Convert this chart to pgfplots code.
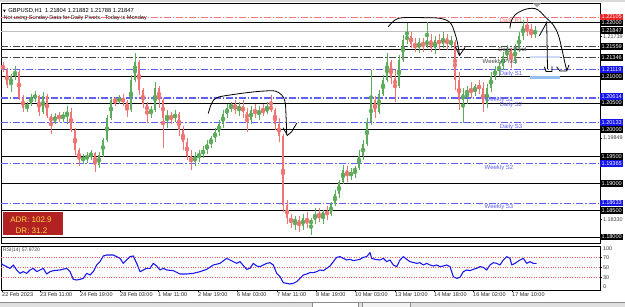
\documentclass[border=0pt]{standalone}
\usepackage{pgfplots}
\pgfplotsset{compat=1.18}
\usepackage{pgfplotstable}
\usepackage{fontspec}
\setmainfont{Liberation Sans}
\newfontfamily\symfont{DejaVu Sans}
\definecolor{upc}{RGB}{92,172,92}
\definecolor{dnc}{RGB}{240,116,116}
\definecolor{lvblue}{RGB}{95,95,240}
\definecolor{lvred}{RGB}{242,120,120}
\definecolor{lvgray}{RGB}{70,70,70}
\definecolor{boxblue}{RGB}{20,20,235}
\definecolor{boxred}{RGB}{235,35,35}
\definecolor{adrred}{RGB}{178,34,34}
\definecolor{adryel}{RGB}{252,212,70}
\definecolor{rsiblue}{RGB}{25,25,235}
\definecolor{hlblue}{RGB}{150,190,240}
\definecolor{hlpale}{RGB}{205,218,248}
\newcommand{\fs}[1]{\fontsize{#1}{#1}\selectfont}
\tikzset{
 pbox/.style={anchor=west, inner xsep=0.6pt, inner ysep=0pt, minimum width=23pt, minimum height=6.8pt, font=\fs{5.6}, text=white},
 lvtext/.style={font=\fs{6}, inner sep=0pt},
 hand/.style={black, line width=0.8pt, line cap=round, line join=round},
 ddash/.style={dash pattern=on 7pt off 2pt on 1.5pt off 2pt},
}
\newcommand{\lev}[2]{\addplot[#1] coordinates {(1,#2)(600,#2)};}

\pgfplotstableread{
x o h l c
3 1.21209 1.21265 1.21078 1.21116
7 1.21116 1.21153 1.20780 1.20836
11 1.20836 1.21041 1.20705 1.21004
15 1.21004 1.21190 1.20929 1.21078
19 1.21078 1.21116 1.20556 1.20593
23 1.20593 1.20649 1.20332 1.20407
27 1.20407 1.20519 1.20332 1.20481
31 1.20481 1.20668 1.20444 1.20612
35 1.20612 1.20724 1.20519 1.20631
39 1.20631 1.20649 1.20257 1.20332
43 1.20332 1.20705 1.20295 1.20631
47 1.20631 1.20668 1.20220 1.20257
51 1.20257 1.20295 1.19922 1.20146
55 1.20146 1.20313 1.20108 1.20257
59 1.20257 1.20332 1.20146 1.20220
63 1.20220 1.20332 1.20146 1.20276
67 1.20276 1.20444 1.20108 1.20332
71 1.20332 1.20407 1.19959 1.19996
75 1.19996 1.20034 1.19530 1.19623
79 1.19623 1.19660 1.19324 1.19436
83 1.19436 1.19548 1.19362 1.19474
87 1.19474 1.19586 1.19380 1.19511
91 1.19511 1.19623 1.19436 1.19567
95 1.19567 1.19586 1.19212 1.19343
99 1.19343 1.19586 1.19287 1.19530
103 1.19530 1.19847 1.19492 1.19810
107 1.19810 1.20276 1.19772 1.20220
111 1.20220 1.20593 1.20183 1.20556
115 1.20556 1.20612 1.20444 1.20537
119 1.20537 1.20649 1.20481 1.20593
123 1.20593 1.20668 1.20444 1.20519
127 1.20519 1.20556 1.20239 1.20369
131 1.20369 1.21023 1.20332 1.20929
135 1.20929 1.21433 1.20892 1.21265
139 1.21265 1.21302 1.20649 1.20743
143 1.20743 1.20780 1.20407 1.20481
147 1.20481 1.20519 1.20127 1.20332
151 1.20332 1.20444 1.20220 1.20369
155 1.20369 1.20892 1.20332 1.20780
159 1.20780 1.20817 1.20407 1.20556
163 1.20556 1.20593 1.19660 1.20220
167 1.20220 1.20369 1.20034 1.20257
171 1.20257 1.20332 1.20108 1.20220
175 1.20220 1.20369 1.20146 1.20295
179 1.20295 1.20332 1.19884 1.19996
183 1.19996 1.20071 1.19623 1.19772
187 1.19772 1.19847 1.19436 1.19511
191 1.19511 1.19623 1.19250 1.19399
195 1.19399 1.19586 1.19324 1.19511
199 1.19511 1.19623 1.19399 1.19548
203 1.19548 1.19698 1.19474 1.19623
207 1.19623 1.19810 1.19548 1.19735
211 1.19735 1.19884 1.19660 1.19847
215 1.19847 1.20034 1.19772 1.19959
219 1.19959 1.20183 1.19884 1.20108
223 1.20108 1.20369 1.20034 1.20295
227 1.20295 1.20481 1.20220 1.20407
231 1.20407 1.20519 1.20332 1.20481
235 1.20481 1.20556 1.20295 1.20369
239 1.20369 1.20519 1.20257 1.20444
243 1.20444 1.20556 1.20220 1.20332
247 1.20332 1.20407 1.19959 1.20183
251 1.20183 1.20444 1.20108 1.20369
255 1.20369 1.20481 1.20220 1.20295
259 1.20295 1.20444 1.20183 1.20369
263 1.20369 1.20481 1.20257 1.20332
267 1.20332 1.20519 1.20295 1.20444
271 1.20444 1.20649 1.20332 1.20369
275 1.20369 1.20407 1.19996 1.20108
279 1.20108 1.20220 1.19772 1.19884
283 1.19884 1.19922 1.18466 1.18595
287 1.18595 1.18690 1.18242 1.18354
291 1.18354 1.18429 1.18168 1.18280
295 1.18280 1.18391 1.18130 1.18317
299 1.18317 1.18391 1.18093 1.18205
303 1.18205 1.18429 1.18130 1.18354
307 1.18354 1.18466 1.18168 1.18242
311 1.18242 1.18354 1.18037 1.18317
315 1.18317 1.18541 1.18242 1.18429
319 1.18429 1.18541 1.18280 1.18354
323 1.18354 1.18503 1.18242 1.18466
327 1.18466 1.18578 1.18317 1.18429
331 1.18429 1.18653 1.18391 1.18613
335 1.18613 1.18877 1.18578 1.18802
339 1.18802 1.19063 1.18727 1.19026
343 1.19026 1.19343 1.18989 1.19250
347 1.19250 1.19324 1.19026 1.19138
351 1.19138 1.19287 1.19063 1.19212
355 1.19212 1.19324 1.19101 1.19287
359 1.19287 1.19623 1.19250 1.19511
363 1.19511 1.19810 1.19436 1.19735
367 1.19735 1.20220 1.19698 1.20146
371 1.20146 1.21116 1.20090 1.20556
375 1.20556 1.20631 1.20220 1.20332
379 1.20332 1.20743 1.20295 1.20668
383 1.20668 1.21023 1.20631 1.20929
387 1.20929 1.21433 1.20892 1.21265
391 1.21265 1.21302 1.20855 1.20967
395 1.20967 1.21116 1.20519 1.20817
399 1.20817 1.21396 1.20780 1.21302
403 1.21302 1.21769 1.21265 1.21676
407 1.21676 1.21993 1.21601 1.21750
411 1.21750 1.21825 1.21526 1.21601
415 1.21601 1.21713 1.21452 1.21526
419 1.21526 1.21713 1.21433 1.21638
423 1.21638 1.21713 1.21452 1.21564
427 1.21564 1.22012 1.21526 1.21676
431 1.21676 1.21788 1.21452 1.21526
435 1.21526 1.21750 1.21414 1.21676
439 1.21676 1.21788 1.21489 1.21601
443 1.21601 1.21825 1.21526 1.21713
447 1.21713 1.21788 1.21489 1.21601
451 1.21601 1.21750 1.21526 1.21638
455 1.21638 1.21676 1.20743 1.20929
459 1.20929 1.21078 1.20369 1.20556
463 1.20556 1.20780 1.20127 1.20668
467 1.20668 1.20817 1.20481 1.20743
471 1.20743 1.20892 1.20593 1.20705
475 1.20705 1.20855 1.20631 1.20817
479 1.20817 1.20929 1.20668 1.20780
483 1.20780 1.20892 1.20332 1.20481
487 1.20481 1.20855 1.20407 1.20780
491 1.20780 1.21078 1.20705 1.21004
495 1.21004 1.21190 1.20929 1.21116
499 1.21116 1.21265 1.21004 1.21190
503 1.21190 1.21452 1.21116 1.21377
507 1.21377 1.21582 1.21302 1.21489
511 1.21489 1.21526 1.21153 1.21302
515 1.21302 1.21601 1.21228 1.21526
519 1.21526 1.21825 1.21452 1.21750
523 1.21750 1.22049 1.21676 1.21937
527 1.21937 1.22105 1.21750 1.21825
531 1.21825 1.21974 1.21713 1.21788
535 1.21788 1.21937 1.21713 1.21847
}\candles

\begin{document}
\begin{tikzpicture}
\fill[white] (0,0) rectangle (625pt,307pt);
\useasboundingbox (0,0) rectangle (625pt,307pt);

% ---------------- main price axis ----------------
\begin{axis}[
  at={(1pt,64pt)}, anchor=south west,
  width=599pt, height=240pt, scale only axis,
  xmin=1, xmax=600, ymin=1.17888, ymax=1.22366,
  axis line style={black, line width=0.7pt},
  xtick=\empty,
  ytick={1.21739,1.19849,1.18330},
  ytick pos=right, yticklabel pos=right,
  tick align=outside, major tick length=2pt,
  tick style={black, line width=0.4pt},
  yticklabel style={font=\fs{5.4}, text=black!75, inner sep=1pt,
     /pgf/number format/.cd, fixed, fixed zerofill, precision=5, assume math mode=true},
  clip=false,
]
% level lines
\lev{black!25, line width=0.5pt}{1.21847}
\lev{black, line width=0.9pt}{1.22000}
\lev{black, line width=0.9pt}{1.21500}
\lev{black, line width=0.9pt}{1.21000}
\lev{black, line width=0.9pt}{1.20500}
\lev{black, line width=0.9pt}{1.20000}
\lev{black, line width=0.9pt}{1.19500}
\lev{black, line width=0.9pt}{1.19000}
\lev{black, line width=0.9pt}{1.18500}
\lev{black, line width=0.9pt}{1.18000}
\lev{lvred, line width=0.7pt, ddash}{1.22105}
\lev{lvgray, line width=0.7pt, ddash}{1.21559}
\lev{lvgray, line width=0.7pt, ddash}{1.21346}
\lev{lvblue, line width=0.7pt, ddash}{1.21119}
\lev{lvblue, line width=0.7pt, ddash}{1.20614}
\lev{lvblue, line width=0.7pt, ddash}{1.20585}
\lev{lvblue, line width=0.7pt, ddash}{1.20133}
\lev{lvblue, line width=0.7pt, ddash}{1.19365}
\lev{lvblue, line width=0.7pt, ddash}{1.18633}

% candle wicks
\addplot[upc, only marks, mark=none, forget plot,
  restrict expr to domain={\thisrow{c}-\thisrow{o}}{0:1},
  error bars/.cd, y dir=both, y explicit, error mark=none,
  error bar style={line width=0.6pt, upc}]
  table[x=x, y expr={(\thisrow{h}+\thisrow{l})/2}, y error expr={(\thisrow{h}-\thisrow{l})/2}] {\candles};
\addplot[dnc, only marks, mark=none, forget plot,
  restrict expr to domain={\thisrow{o}-\thisrow{c}}{0.0000001:1},
  error bars/.cd, y dir=both, y explicit, error mark=none,
  error bar style={line width=0.6pt, dnc}]
  table[x=x, y expr={(\thisrow{h}+\thisrow{l})/2}, y error expr={(\thisrow{h}-\thisrow{l})/2}] {\candles};
% candle bodies
\addplot[upc, only marks, mark=none, forget plot,
  restrict expr to domain={\thisrow{c}-\thisrow{o}}{0:1},
  error bars/.cd, y dir=both, y explicit, error mark=none,
  error bar style={line width=2.8pt, upc}]
  table[x=x, y expr={(\thisrow{o}+\thisrow{c})/2}, y error expr={abs(\thisrow{c}-\thisrow{o})/2}] {\candles};
\addplot[dnc, only marks, mark=none, forget plot,
  restrict expr to domain={\thisrow{o}-\thisrow{c}}{0.0000001:1},
  error bars/.cd, y dir=both, y explicit, error mark=none,
  error bar style={line width=2.8pt, dnc}]
  table[x=x, y expr={(\thisrow{o}+\thisrow{c})/2}, y error expr={abs(\thisrow{c}-\thisrow{o})/2}] {\candles};

% price scale labels
\node[pbox, fill=black] at (axis cs:600,1.22000) {1.22000};
\node[pbox, fill=boxred] at (axis cs:600,1.22105) {1.22105};
\node[pbox, fill=black] at (axis cs:600,1.21847) {1.21847};
\node[pbox, fill=black] at (axis cs:600,1.21559) {1.21559};
\node[pbox, fill=black] at (axis cs:600,1.21346) {1.21346};
\node[pbox, fill=black] at (axis cs:600,1.21000) {1.21000};
\node[pbox, fill=boxblue] at (axis cs:600,1.21119) {1.21119};
\node[pbox, fill=black] at (axis cs:600,1.20500) {1.20500};
\node[pbox, fill=boxblue] at (axis cs:600,1.20614) {1.20614};
\node[pbox, fill=black] at (axis cs:600,1.20000) {1.20000};
\node[pbox, fill=boxblue] at (axis cs:600,1.20133) {1.20133};
\node[pbox, fill=black] at (axis cs:600,1.19500) {1.19500};
\node[pbox, fill=boxblue] at (axis cs:600,1.19365) {1.19365};
\node[pbox, fill=black] at (axis cs:600,1.19000) {1.19000};
\node[pbox, fill=boxblue] at (axis cs:600,1.18633) {1.18633};
\node[pbox, fill=black] at (axis cs:600,1.18500) {1.18500};
\node[pbox, fill=black] at (axis cs:600,1.18000) {1.18000};
\end{axis}

% ---------------- RSI axis ----------------
\begin{axis}[
  at={(1pt,17pt)}, anchor=south west,
  width=599pt, height=44pt, scale only axis,
  xmin=1, xmax=600, ymin=4.6, ymax=92.6,
  axis line style={black, line width=0.7pt},
  xtick={2,40,80,120,158,198,237,277,316,355,395,434,473,512},
  xticklabels={22 Feb 2023,23 Feb 11:00,24 Feb 19:00,28 Feb 03:00,1 Mar 11:00,2 Mar 19:00,6 Mar 03:00,7 Mar 11:00,8 Mar 19:00,10 Mar 03:00,13 Mar 10:00,14 Mar 18:00,16 Mar 02:00,17 Mar 10:00},
  xtick pos=bottom,
  ytick={30,50,70}, ytick pos=right, yticklabel pos=right,
  tick align=outside, major tick length=2pt,
  tick style={black, line width=0.4pt},
  xticklabel style={anchor=north west, font=\fs{5.5}, text=black!85, inner xsep=0pt, inner ysep=0.8pt},
  yticklabel style={font=\fs{5.4}, text=black!80, inner sep=1pt, /pgf/number format/assume math mode=true},
  clip=true,
]
\addplot[color={rgb,255:red,240;green,95;blue,95}, line width=0.6pt, dash pattern=on 1pt off 1.4pt] coordinates {(1,70)(600,70)};
\addplot[color={rgb,255:red,240;green,95;blue,95}, line width=0.6pt, dash pattern=on 1pt off 1.4pt] coordinates {(1,50)(600,50)};
\addplot[color={rgb,255:red,240;green,95;blue,95}, line width=0.6pt, dash pattern=on 1pt off 1.4pt] coordinates {(1,30)(600,30)};
\addplot[rsiblue, line width=1.1pt, line join=round] coordinates {
(1,57.9)(3.3,54.6)(6.7,51.3)(10,47.9)(13.3,54.6)(16.7,44.6)(20,37.9)(23.3,41.3)(26.7,37.9)(30,44.6)(33.3,47.9)(36.7,41.3)(40,44.6)(43.3,47.9)(46.7,36.6)(50,41.3)(53.3,43.3)(60,44.6)(66.7,47.9)(70,41.3)(73.3,25.9)(76.7,24.6)(80,25.9)(83.3,27.9)(86.7,37.9)(90,34.6)(93.3,41.3)(96.7,54.6)(100,61.3)(103.3,72.6)(106.7,74.6)(113.3,74.6)(116.7,71.3)(120,67.9)(123.3,57.9)(126.7,64.6)(130,71.3)(133.3,72.6)(136.7,57.9)(140,41.3)(143.3,44.6)(146.7,47.9)(150,47.9)(153.3,57.9)(156.7,52.6)(160,44.6)(163.3,47.9)(166.7,44.6)(173.3,43.3)(180,36.6)(186.7,36.6)(193.3,37.9)(200,41.3)(206.7,45.9)(213.3,54.6)(220,57.9)(226.7,67.9)(230,64.6)(233.3,61.3)(236.7,57.9)(240,61.3)(246.7,45.9)(250,47.9)(253.3,57.9)(256.7,52.6)(260,51.3)(263.3,54.6)(266.7,57.9)(270,59.2)(273.3,54.6)(276.7,37.9)(280,31.3)(283.3,19.2)(286.7,17.9)(290,16.6)(293.3,17.9)(296.7,21.3)(300,27.9)(303.3,34.6)(306.7,36.6)(310,39.2)(313.3,39.2)(316.7,41.3)(320,44.6)(323.3,43.3)(326.7,47.9)(330,52.6)(333.3,61.3)(336.7,69.9)(340,71.3)(343.3,67.9)(346.7,64.6)(350,65.9)(353.3,63.3)(356.7,64.6)(360,65.9)(363.3,69.9)(366.7,71.3)(370,79.3)(371.7,67.9)(375,65.9)(380,64.6)(383.3,67.9)(386.7,61.3)(390,64.6)(393.3,54.6)(396.7,51.3)(400,64.6)(403.3,71.3)(406.7,65.9)(410,61.3)(416.7,57.9)(420,59.2)(423.3,54.6)(426.7,57.9)(430,54.6)(433.3,52.6)(436.7,54.6)(440,51.3)(443.3,52.6)(446.7,54.6)(450,51.3)(453.3,31.3)(456.7,27.9)(460,29.9)(463.3,41.3)(466.7,44.6)(470,43.3)(473.3,45.9)(476.7,47.9)(480,51.3)(483.3,49.9)(486.7,44.6)(490,54.6)(493.3,59.2)(496.7,57.9)(500,54.6)(503.3,64.6)(506.7,71.3)(510,67.9)(511.7,54.6)(515,57.9)(520,64.6)(523.3,67.9)(526.7,57.9)(530,61.3)(533.3,57.9)(536.7,57.97)};
\end{axis}

% ---------------- annotations in pixel coordinates ----------------
\begin{scope}[x=1pt, y=-1pt, yshift=307pt]
\fill[black!15] (0,0) rectangle (625,2.5);
\fill[black!12] (0,302) rectangle (625,307);
\draw[black!45, line width=0.4pt] (0,302) -- (625,302);
\draw[black!45, line width=0.4pt, fill=white] (312,302.2) rectangle (358,307);
\draw[black!45, line width=0.4pt, fill=black!5] (362,302.2) rectangle (410,307);
\fill[black!35] (533,3.3) -- (541,3.3) -- (537,7.5) -- cycle;

\node[anchor=west, inner sep=0pt, font=\fs{5.8}] at (3,11) {{\symfont\fs{3.6}\raisebox{0.3pt}{▼}}\hspace{2.5pt}GBPUSD,H1\ \ 1.21804 1.21882 1.21788 1.21847};
\node[anchor=west, inner sep=0pt, font=\fs{5.6}, text={rgb,255:red,50;green,20;blue,20}] at (3.5,17.8) {Not using Sunday Data for Daily Pivots.\ \ Today is Monday};

% level names
\node[lvtext, text=lvred] at (511,20.5) {Daily R1};
\node[lvtext, text=lvgray] at (512.5,49.5) {Daily Pivot};
\node[lvtext, text=lvgray] at (500,61.5) {Weekly Pivot};
\node[lvtext, text=lvblue] at (511,73.5) {Daily S1};
\node[lvtext, text=lvblue] at (499,100) {Weekly S1};
\node[lvtext, text=lvblue] at (511,104.5) {Daily S2};
\node[lvtext, text=lvblue] at (511,127) {Daily S3};
\node[lvtext, text=lvblue] at (499,168) {Weekly S2};
\node[lvtext, text=lvblue] at (499,207) {Weekly S3};

% highlight bars
\fill[hlpale] (530,55.6) rectangle (560,57.8);
\fill[hlblue] (530,75.8) rectangle (560,78.6);

% ADR box
\fill[adrred] (3.3,212) rectangle (63.3,235);
\node[font=\fs{8}, text=adryel, inner sep=0pt] at (31,219.8) {ADR: 102.9};
\node[font=\fs{8}, text=adryel, inner sep=0pt] at (31.5,230.5) {DR: 31.2};

% hand drawn annotations
\draw[hand] plot[smooth, tension=0.6] coordinates {(208.3,113.3)(211.7,103.3)(216.7,97.7)(230,95)(250,92.3)(265,91)(275,91)(281.7,95)(285,101.7)(286,115)(286.7,134)};
\draw[hand] (283.3,128) -- (287.3,135.5) -- (291.7,131.7) -- (296.7,123.3);
\draw[hand] plot[smooth, tension=0.6] coordinates {(388.3,26.7)(395,20)(403.3,17.7)(426.7,17.7)(440,18.3)(450,22.5)(454.5,32)(457.5,43)(459.5,55)};
\draw[hand] (455.5,47) -- (459.5,55.5) -- (465,47.5);
\draw[hand] plot[smooth, tension=0.6] coordinates {(510,28.3)(511,21.7)(515,15)(523.3,10)(531.7,8.3)(538.3,10)(545,16.7)(553.3,25)(558.3,35)(561.7,48.3)(565,63.3)(566.7,70)};
\draw[hand] (556.7,67) -- (560,71) -- (566.7,71) -- (569,65);
\draw[hand] (546.7,21.7) -- (547.5,69);
\draw[hand] (544.5,67) -- (546,71.5) -- (552,71.5) -- (552,66.5);
\draw[hand] (539.5,35.5) -- (547,22);

% RSI panel texts
\node[anchor=west, inner sep=0pt, font=\fs{5}, text=black!75] at (3,250) {RSI(14) 57.9720};
\node[anchor=west, inner sep=0pt, font=\fs{5.4}, text=black!80] at (603,248.5) {100};
\node[anchor=west, inner sep=0pt, font=\fs{5.4}, text=black!80] at (603,287) {0};
\end{scope}
\end{tikzpicture}
\end{document}
